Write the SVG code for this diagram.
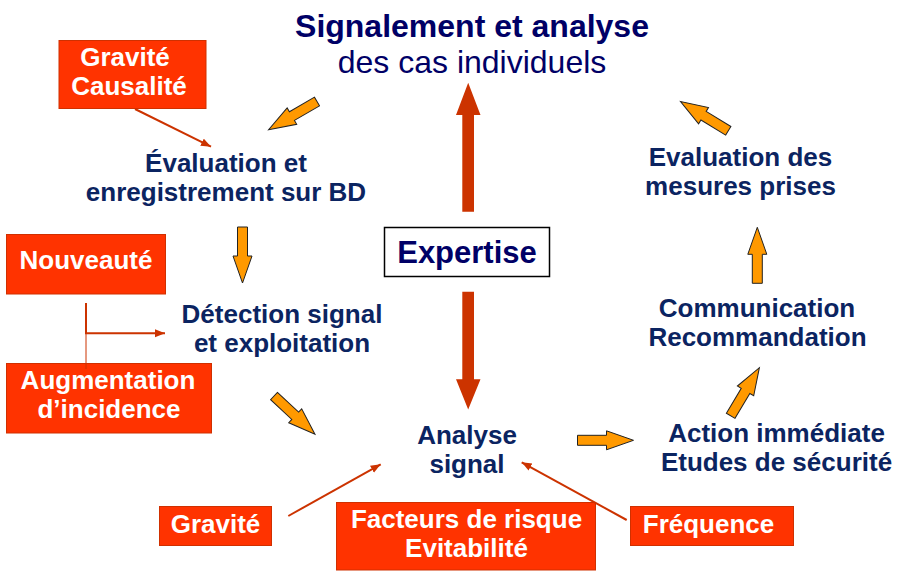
<svg xmlns="http://www.w3.org/2000/svg" width="921" height="571" viewBox="0 0 921 571">
  <style>
    text { font-family: "Liberation Sans", Arial, sans-serif; font-weight: bold; text-anchor: middle; }
    .title { fill: #000066; font-size: 32px; }
    .sub { fill: #000066; font-size: 32px; font-weight: normal; }
    .node { fill: #0b2461; font-size: 26px; }
    .tag { fill: #ffffff; font-size: 26px; }
    .tagbox { fill: #ff3300; stroke: #d03000; stroke-width: 1; }
    .block { fill: #ff9900; stroke: #222222; stroke-width: 1; stroke-linejoin: miter; }
    .thin { fill: none; stroke: #cc3300; stroke-width: 2; }
    .big { fill: #cc3300; }
  </style>
  <defs>
    <!-- block arrow, tail at origin, pointing along +x -->
    <path id="blk" d="M0,-5 L29,-5 L29,-9.5 L56,0 L29,9.5 L29,5 L0,5 Z"/>
    <marker id="tip" markerUnits="userSpaceOnUse" markerWidth="12" markerHeight="10" refX="10" refY="4" orient="auto">
      <path d="M0,0 L10,4 L0,8 Z" fill="#cc3300"/>
    </marker>
  </defs>

  <!-- central title -->
  <g id="title">
    <text class="title" x="472" y="37">Signalement et analyse</text>
    <text class="sub" x="472" y="73">des cas individuels</text>
  </g>

  <g id="expertise">
    <rect x="384.5" y="227.5" width="165" height="49" fill="#ffffff" stroke="#000000" stroke-width="1.5"/>
    <text x="467" y="262.5" fill="#000066" font-size="31">Expertise</text>
  </g>

  <g id="evaluation-bd">
    <text class="node" x="226" y="172">Évaluation et</text>
    <text class="node" x="226" y="201">enregistrement sur BD</text>
  </g>

  <g id="detection">
    <text class="node" x="282" y="323">Détection signal</text>
    <text class="node" x="282" y="352">et exploitation</text>
  </g>

  <g id="analyse">
    <text class="node" x="467" y="444">Analyse</text>
    <text class="node" x="467" y="473">signal</text>
  </g>

  <g id="action">
    <text class="node" x="776.5" y="441.5">Action immédiate</text>
    <text class="node" x="776.5" y="470.5">Etudes de sécurité</text>
  </g>

  <g id="communication">
    <text class="node" x="757" y="316.5">Communication</text>
    <text class="node" x="757.5" y="345.5">Recommandation</text>
  </g>

  <g id="evaluation-mesures">
    <text class="node" x="740.5" y="166">Evaluation des</text>
    <text class="node" x="740.5" y="195">mesures prises</text>
  </g>

  <!-- criteria boxes -->
  <g id="gravite-causalite">
    <rect class="tagbox" x="59" y="40.5" width="147" height="68"/>
    <text class="tag" x="125" y="66">Gravité</text>
    <text class="tag" x="129" y="95">Causalité</text>
  </g>

  <g id="nouveaute">
    <rect class="tagbox" x="6.5" y="234.5" width="159" height="59.5"/>
    <text class="tag" x="86" y="269">Nouveauté</text>
  </g>

  <g id="augmentation">
    <rect class="tagbox" x="6.5" y="363.5" width="205" height="69.5"/>
    <text class="tag" x="108" y="389">Augmentation</text>
    <text class="tag" x="109" y="418">d’incidence</text>
  </g>

  <g id="gravite">
    <rect class="tagbox" x="159.5" y="506.5" width="112" height="39"/>
    <text class="tag" x="215.5" y="532.5">Gravité</text>
  </g>

  <g id="facteurs">
    <rect class="tagbox" x="336.5" y="502.5" width="259" height="67.5"/>
    <text class="tag" x="466.5" y="528">Facteurs de risque</text>
    <text class="tag" x="466.5" y="557">Evitabilité</text>
  </g>

  <g id="frequence">
    <rect class="tagbox" x="630.5" y="506.5" width="163" height="39"/>
    <text class="tag" x="708.5" y="532.5">Fréquence</text>
  </g>

  <!-- connectors -->
  <g id="connectors">
    <!-- cycle of block arrows -->
    <use href="#blk" class="block" transform="translate(317,101.5) rotate(149.8)"/>
    <use href="#blk" class="block" transform="translate(242.5,227) rotate(90)"/>
    <use href="#blk" class="block" transform="translate(274,396) rotate(43)"/>
    <use href="#blk" class="block" transform="translate(577.5,440.3)"/>
    <use href="#blk" class="block" transform="translate(730.7,415.8) rotate(-59.2)"/>
    <use href="#blk" class="block" transform="translate(757.3,283.3) rotate(-90)"/>
    <use href="#blk" class="block" transform="translate(728.3,130.8) rotate(-148.6)"/>

    <!-- expertise arrows -->
    <path class="big" d="M462.3,211.7 L462.3,115 L456,115 L468.2,82.7 L480.5,115 L474,115 L474,211.7 Z"/>
    <path class="big" d="M462.3,291.7 L462.3,379.3 L456,379.3 L468.2,409.5 L480.5,379.3 L474,379.3 L474,291.7 Z"/>

    <!-- criteria links -->
    <line class="thin" x1="135" y1="109" x2="211" y2="146.7" marker-end="url(#tip)"/>
    <polyline class="thin" points="86,303 86,333.3 165,333.3" marker-end="url(#tip)"/>
    <line x1="86" y1="333.3" x2="86" y2="369" stroke="#cc3300" stroke-width="1"/>
    <line class="thin" x1="288.3" y1="516" x2="380.7" y2="464.3" marker-end="url(#tip)"/>
    <line class="thin" x1="626.7" y1="520" x2="521.7" y2="462.3" marker-end="url(#tip)"/>
  </g>
</svg>
